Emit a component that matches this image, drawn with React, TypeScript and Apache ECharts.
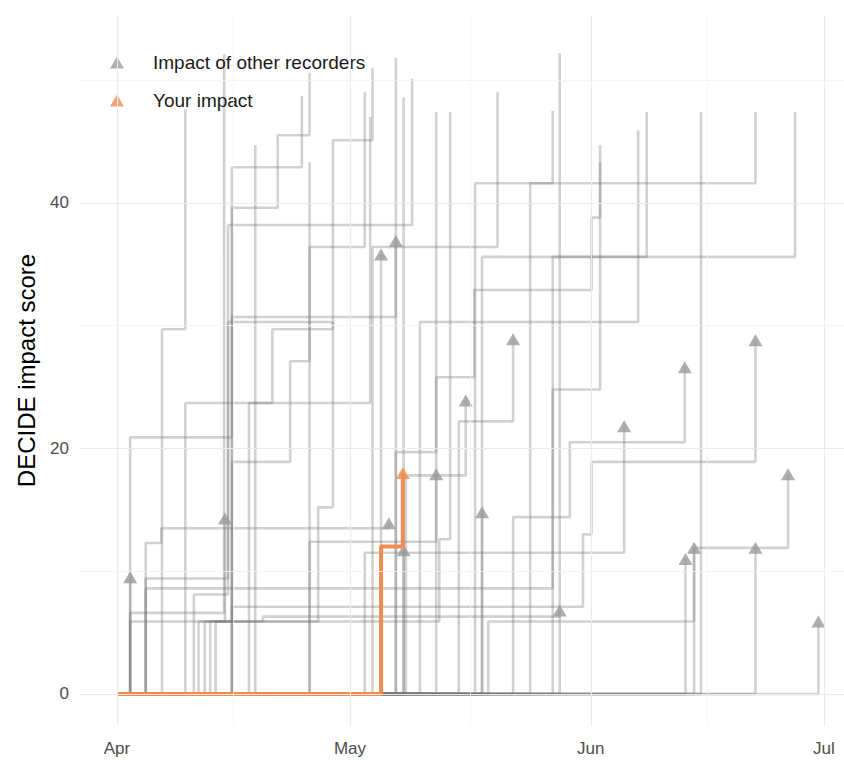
import React, { useEffect, useRef } from "react";
import * as echarts from "echarts";

// x values are days since 1 April; y values are cumulative DECIDE impact scores
const tickDays = [0, 30, 61, 91];
const tickLabels = ["Apr", "May", "Jun", "Jul"];
const midMonthDays = [15, 45.5, 76];
const scoreTicks = [0, 20, 40];
const minorScoreTicks = [10, 30, 50];

const yourImpact: [number, number][] = [
  [0, 0],
  [34.0, 12.0],
  [36.8, 18.0],
];

const otherRecorders: [number, number][][] = [
  [[0, 0], [1.7, 9.5]],
  [[0, 0], [1.7, 20.9], [14.8, 39.6], [20.7, 45.5], [24.8, 50.6]],
  [[0, 0], [1.7, 6.6], [13.8, 52.1]],
  [[0, 0], [1.7, 5.9], [13.9, 14.3]],
  [[0, 0], [3.7, 12.3], [5.7, 13.5], [35.0, 13.9]],
  [[0, 0], [3.7, 9.4], [14.3, 30.3], [27.8, 45.1], [32.9, 51.0]],
  [[0, 0], [36.9, 11.7]],
  [[0, 0], [5.8, 29.7], [8.8, 47.6]],
  [[0, 0], [8.8, 23.7], [32.6, 47.0]],
  [[0, 0], [14.8, 42.9], [23.8, 48.7]],
  [[0, 0], [17.8, 44.7]],
  [[0, 0], [9.9, 8.1], [14.3, 38.2], [38.0, 50.1]],
  [[0, 0], [14.8, 18.9], [22.3, 27.1], [24.8, 43.3]],
  [[0, 0], [14.8, 30.7], [35.9, 36.9]],
  [[0, 0], [35.9, 51.8]],
  [[0, 0], [24.8, 36.4], [31.9, 49.0]],
  [[0, 0], [32.9, 36.4], [49.0, 49.0]],
  [[0, 0], [34.0, 35.8]],
  [[0, 0], [36.9, 48.6]],
  [[0, 0], [41.1, 47.4]],
  [[0, 0], [12.0, 5.9], [41.5, 12.6], [42.9, 47.4]],
  [[0, 0], [24.8, 12.4], [41.1, 17.9]],
  [[0, 0], [37.2, 17.8], [44.9, 23.9]],
  [[0, 0], [47.0, 14.8]],
  [[0, 0], [44.0, 22.2], [51.0, 28.9]],
  [[0, 0], [10.5, 5.9], [18.8, 6.3], [57.0, 6.8]],
  [[0, 0], [57.0, 52.2]],
  [[0, 0], [46.1, 41.6], [82.2, 47.4]],
  [[0, 0], [53.2, 41.6], [56.1, 47.5]],
  [[0, 0], [47.0, 35.6], [87.3, 47.4]],
  [[0, 0], [3.7, 8.6], [56.1, 24.8], [62.2, 44.7]],
  [[0, 0], [39.0, 30.3], [67.1, 45.9]],
  [[0, 0], [35.9, 19.7], [41.1, 25.8], [46.0, 32.9], [61.1, 38.8], [62.2, 43.3]],
  [[0, 0], [56.1, 35.6], [68.2, 47.4]],
  [[0, 0], [31.9, 11.5], [65.3, 21.8]],
  [[0, 0], [51.0, 14.4], [58.3, 20.5], [73.1, 26.6]],
  [[0, 0], [73.2, 11.0]],
  [[0, 0], [47.8, 5.9], [74.3, 11.9]],
  [[0, 0], [11.3, 5.9], [14.8, 7.1], [60.0, 13.0], [61.1, 18.9], [82.2, 28.8]],
  [[0, 0], [82.2, 11.9]],
  [[0, 0], [74.3, 11.9], [86.4, 17.9]],
  [[0, 0], [90.3, 5.9]],
  [[0, 0], [75.2, 47.4]],
  [[0, 0], [12.7, 5.9], [25.9, 15.2], [27.8, 30.3]],
  [[0, 0], [17.0, 23.7], [20.0, 29.7], [27.8, 30.3]],
];

// whether the recorder's latest score is marked with a triangle
const otherMarked: boolean[] = [
  true, false, false, true, true, false, true, false, false, false,
  false, false, false, true, false, false, false, true, false, false,
  false, true, true, true, true, true, false, false, false, false,
  false, false, false, false, true, true, true, true, true, true,
  true, true, false, false, false,
];

const FONT = "'Liberation Sans', Arial, Helvetica, sans-serif";
const ORANGE = "#F28B4E";
const GRAY_LINE = "rgba(115,115,115,0.33)";
const GRAY_MARK = "#9a9a9a";
const OTHER_NAME = "Impact of other recorders";
const YOUR_NAME = "Your impact";

export default function App() {
  const ref = useRef<HTMLDivElement>(null);

  useEffect(() => {
    if (!ref.current) return;
    const chart = echarts.init(ref.current, null, { renderer: "svg" });

    const gridLines: any[] = [];
    tickDays.forEach((d) =>
      gridLines.push({ xAxis: d, lineStyle: { color: "#ebebeb", width: 1.2, type: "solid" } })
    );
    midMonthDays.forEach((d) =>
      gridLines.push({ xAxis: d, lineStyle: { color: "#f3f3f3", width: 0.8, type: "solid" } })
    );
    scoreTicks.forEach((v) =>
      gridLines.push({ yAxis: v, lineStyle: { color: "#ebebeb", width: 1.2, type: "solid" } })
    );
    minorScoreTicks.forEach((v) =>
      gridLines.push({ yAxis: v, lineStyle: { color: "#f3f3f3", width: 0.8, type: "solid" } })
    );

    const endPoints = otherRecorders
      .filter((_, i) => otherMarked[i])
      .map((pts) => pts[pts.length - 1]);

    const nearestLabel = (v: number) => {
      let best = 0;
      tickDays.forEach((d, i) => {
        if (Math.abs(d - v) < Math.abs(tickDays[best] - v)) best = i;
      });
      return Math.abs(tickDays[best] - v) < 0.5 ? tickLabels[best] : "";
    };

    const option: any = {
      animation: false,
      backgroundColor: "#ffffff",
      textStyle: { fontFamily: FONT },
      grid: {
        left: 80,
        right: 0,
        top: 15,
        bottom: 34,
        containLabel: false,
        outerBoundsMode: "none",
      },
      xAxis: {
        type: "value",
        min: -4.76,
        max: 93.6,
        axisLine: { show: false },
        axisTick: { show: false },
        splitLine: { show: false },
        axisLabel: {
          customValues: tickDays,
          formatter: (v: number) => nearestLabel(v),
          color: "#4d4d4d",
          fontSize: 17,
          margin: 14,
          fontFamily: FONT,
        },
      },
      yAxis: {
        type: "value",
        min: -2.61,
        max: 55.3,
        axisLine: { show: false },
        axisTick: { show: false },
        splitLine: { show: false },
        axisLabel: {
          customValues: scoreTicks,
          color: "#4d4d4d",
          fontSize: 17,
          margin: 11,
          fontFamily: FONT,
        },
        name: "DECIDE impact score",
        nameLocation: "middle",
        nameGap: 42,
        nameRotate: 90,
        nameTextStyle: { fontSize: 24, color: "#000000", fontFamily: FONT },
      },
      legend: {
        data: [OTHER_NAME, YOUR_NAME],
        orient: "vertical",
        left: 105,
        top: 48,
        itemWidth: 14,
        itemHeight: 12,
        itemGap: 19,
        selectedMode: false,
        textStyle: {
          fontFamily: FONT,
          fontSize: 19,
          color: "#1a1a1a",
          padding: [0, 0, 0, 24],
        },
      },
      series: [
        {
          type: "line",
          name: "gridlines",
          data: [[0, 0]],
          symbol: "none",
          lineStyle: { width: 0, opacity: 0 },
          silent: true,
          z: 0,
          markLine: {
            silent: true,
            symbol: ["none", "none"],
            label: { show: false },
            animation: false,
            data: gridLines,
          },
        },
        ...otherRecorders.map((pts, i) => ({
          type: "line",
          name: "other-" + i,
          step: "end",
          data: pts,
          symbol: "none",
          showSymbol: false,
          silent: true,
          emphasis: { disabled: true },
          lineStyle: { color: GRAY_LINE, width: 2.6 },
          z: 2,
        })),
        {
          type: "scatter",
          name: OTHER_NAME,
          data: endPoints,
          symbol: "triangle",
          symbolSize: [14, 12],
          itemStyle: { color: GRAY_MARK },
          silent: true,
          z: 3,
        },
        {
          type: "line",
          name: "your-line",
          step: "end",
          data: yourImpact,
          symbol: "none",
          showSymbol: false,
          silent: true,
          emphasis: { disabled: true },
          lineStyle: { color: ORANGE, width: 4 },
          z: 4,
        },
        {
          type: "scatter",
          name: YOUR_NAME,
          data: [yourImpact[yourImpact.length - 1]],
          symbol: "triangle",
          symbolSize: [14, 12],
          itemStyle: { color: ORANGE },
          silent: true,
          z: 5,
        },
      ],
    };

    chart.setOption(option);
    return () => chart.dispose();
  }, []);

  return (
    <div
      ref={ref}
      style={{ position: "fixed", left: 0, top: 0, width: 844, height: 760, background: "#fff" }}
    />
  );
}
